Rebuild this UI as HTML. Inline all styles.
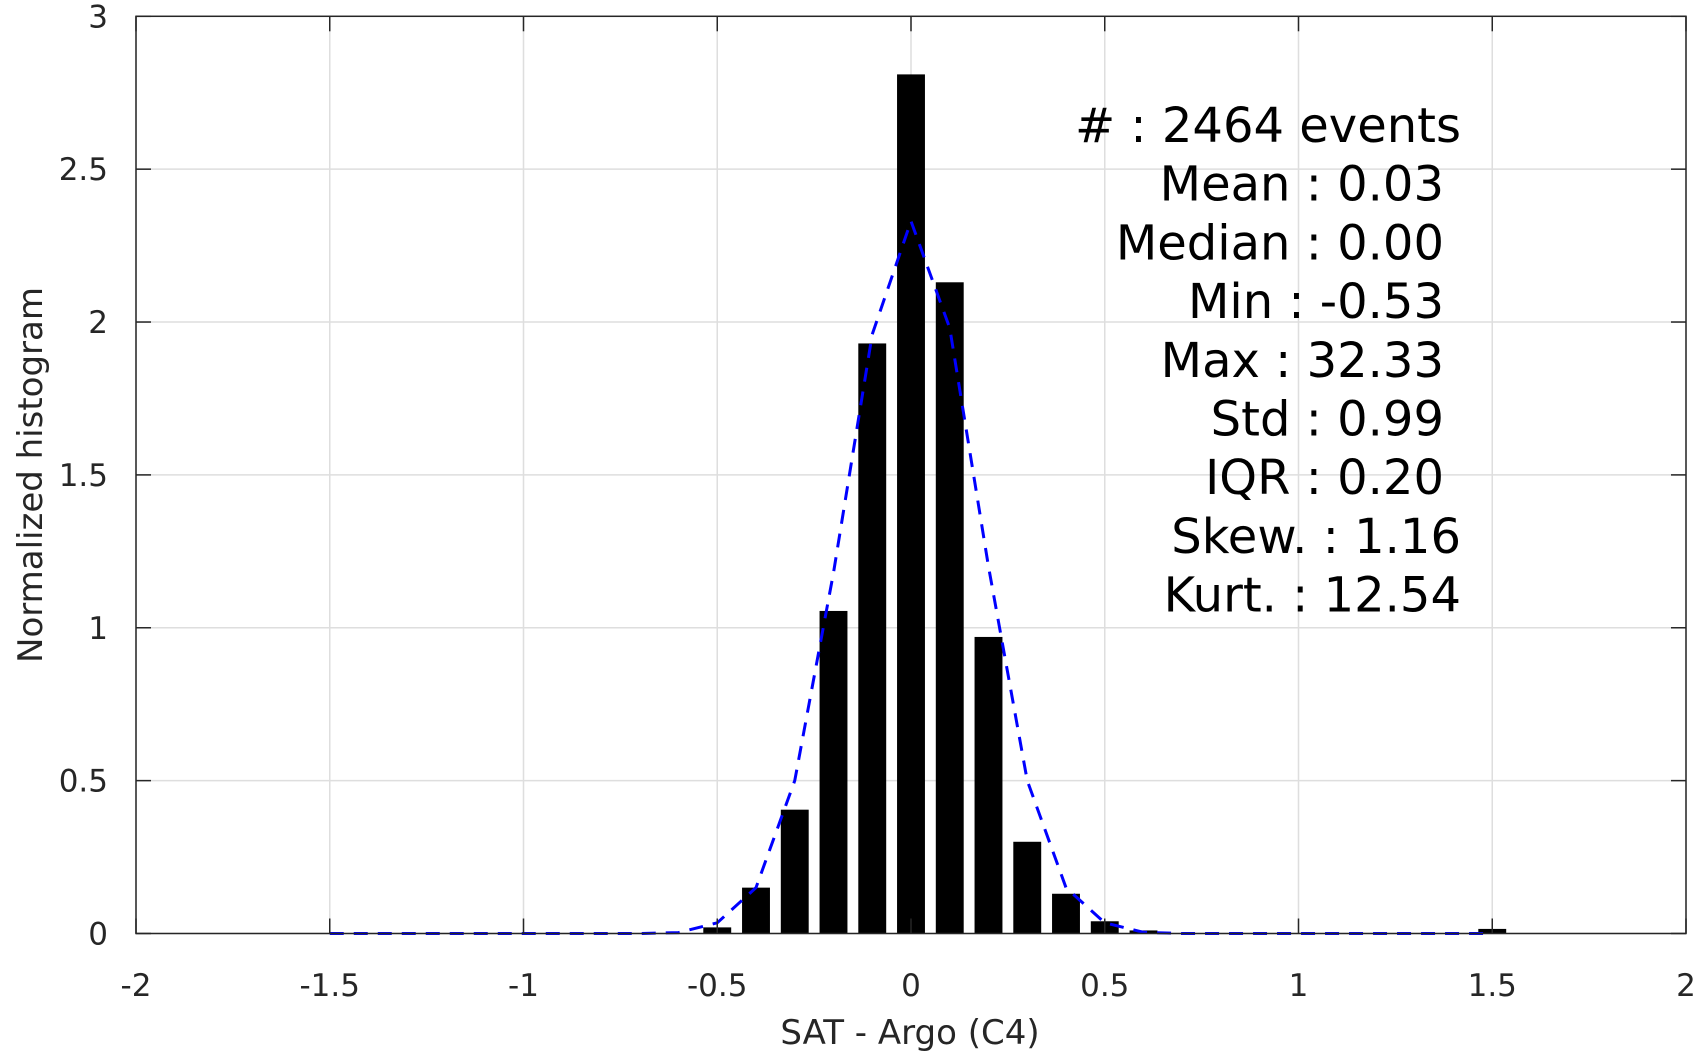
<!DOCTYPE html>
<html><head><meta charset="utf-8"><style>
body{margin:0;background:#fff}
svg{display:block;font-family:"DejaVu Sans","Liberation Sans",sans-serif}
</style></head><body>
<svg id="chart" width="1703" height="1056" viewBox="0 0 1703 1056" xmlns="http://www.w3.org/2000/svg">
<g id="grid"></g>
<g id="bars"></g>
<g id="curve"></g>
<g id="axes"></g>
<g id="stats" font-size="48" fill="#000" text-anchor="end"></g>
<text x="910" y="1044" font-size="34" fill="#262626" text-anchor="middle">SAT - Argo (C4)</text>
<text transform="translate(31,475) rotate(-90)" font-size="34" fill="#262626" text-anchor="middle" dominant-baseline="central">Normalized histogram</text>
</svg>
<script>
const barCenters=[-0.5,-0.4,-0.3,-0.2,-0.1,0,0.1,0.2,0.3,0.4,0.5,0.6,1.5];
const barHeights=[0.02,0.15,0.405,1.055,1.93,2.81,2.13,0.97,0.30,0.13,0.04,0.01,0.015];
const curveX=[-1.5,-1.4,-1.3,-1.2,-1.1,-1.0,-0.9,-0.8,-0.7,-0.6,-0.5,-0.4,-0.3,-0.2,-0.1,0,0.1,0.2,0.3,0.4,0.5,0.6,0.7,0.8,0.9,1.0,1.1,1.2,1.3,1.4,1.5];
const curveY=[0,0,0,0,0,0,0,0,0,0.003,0.035,0.15,0.5,1.18,1.96,2.33,1.98,1.2,0.5,0.15,0.035,0.004,0,0,0,0,0,0,0,0,0];
const xTicks=[-2,-1.5,-1,-0.5,0,0.5,1,1.5,2];
const xTickLabels=["-2","-1.5","-1","-0.5","0","0.5","1","1.5","2"];
const yTicks=[0,0.5,1,1.5,2,2.5,3];
const yTickLabels=["0","0.5","1","1.5","2","2.5","3"];
const statLines=["#  : 2464 events","Mean : 0.03","Median : 0.00","Min : -0.53","Max : 32.33","Std : 0.99","IQR : 0.20","Skew. : 1.16","Kurt. : 12.54"];
const statRight=[1461,1444,1444,1444,1444,1444,1444,1461,1461];

const L=136,R=1686,T=16.3,B=933.5;
const X=v=>L+(v+2)/4*(R-L);
const Y=v=>B-v/3*(B-T);
const NS="http://www.w3.org/2000/svg";
function mk(tag,attrs,parent){const e=document.createElementNS(NS,tag);for(const k in attrs)e.setAttribute(k,attrs[k]);parent.appendChild(e);return e;}
const grid=document.getElementById('grid'),bars=document.getElementById('bars'),curve=document.getElementById('curve'),axes=document.getElementById('axes'),stats=document.getElementById('stats');
xTicks.forEach((t,i)=>{
  const g=mk('line',{x1:X(t),x2:X(t),y1:T,y2:B,stroke:'#dedede','stroke-width':1.5},grid);
  
  const a=mk('line',{x1:X(t),x2:X(t),y1:B,y2:B-15,stroke:'#262626','stroke-width':1.5},axes);
  
  const b=mk('line',{x1:X(t),x2:X(t),y1:T,y2:T+15,stroke:'#262626','stroke-width':1.5},axes);
  
  const tx=mk('text',{x:X(t),y:996,'font-size':31,fill:'#262626','text-anchor':'middle'},axes);
  tx.textContent=xTickLabels[i];
  
});
yTicks.forEach((t,i)=>{
  const g=mk('line',{x1:L,x2:R,y1:Y(t),y2:Y(t),stroke:'#dedede','stroke-width':1.5},grid);
  
  const a=mk('line',{x1:L,x2:L+15,y1:Y(t),y2:Y(t),stroke:'#262626','stroke-width':1.5},axes);
  
  const b=mk('line',{x1:R,x2:R-15,y1:Y(t),y2:Y(t),stroke:'#262626','stroke-width':1.5},axes);
  
  const tx=mk('text',{x:108,y:Y(t)+11,'font-size':31,fill:'#262626','text-anchor':'end'},axes);
  tx.textContent=yTickLabels[i];
  
});
const bw=0.072;
barCenters.forEach((c,i)=>{
  const r=mk('rect',{x:X(c-bw/2),y:Y(barHeights[i]),width:X(c+bw/2)-X(c-bw/2),height:B-Y(barHeights[i]),fill:'#000'},bars);
  
});
const p=mk('polyline',{points:curveX.map((x,i)=>X(x)+','+Y(curveY[i])).join(' '),fill:'none',stroke:'#0000ff','stroke-width':3,'stroke-dasharray':'14 10'},curve);

const box=mk('rect',{x:L,y:T,width:R-L,height:B-T,fill:'none',stroke:'#262626','stroke-width':1.5},axes);

statLines.forEach((s,i)=>{
  const t=mk('text',{x:statRight[i],y:142+i*58.7,'xml:space':'preserve'},stats);
  t.textContent=s;
  
});
</script>
</body></html>
